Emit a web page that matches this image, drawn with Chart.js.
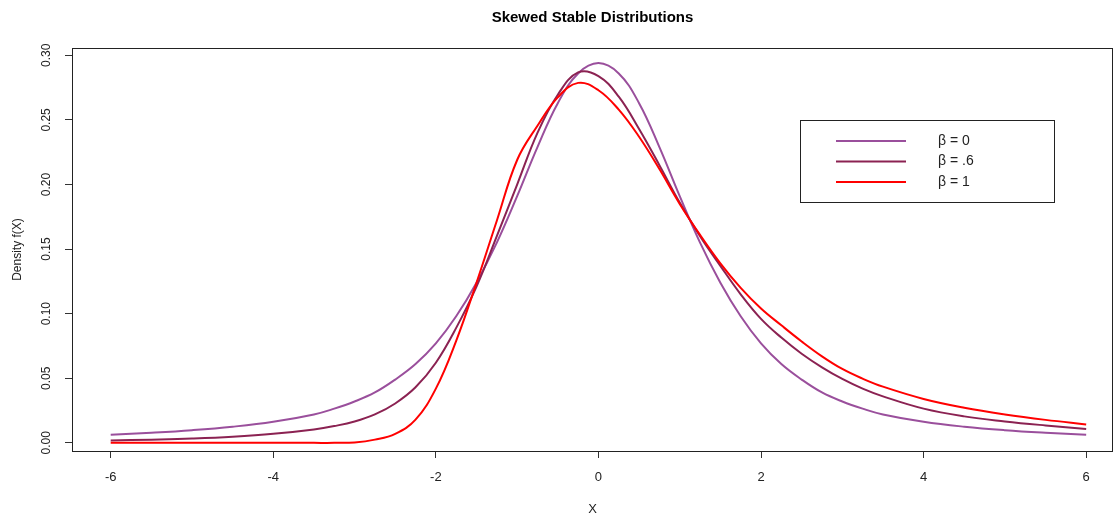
<!DOCTYPE html>
<html>
<head>
<meta charset="utf-8">
<script src="https://cdn.jsdelivr.net/npm/chart.js@4"></script>
<style>
html,body{margin:0;padding:0;background:#fff}
#wrap{width:1117px;height:517px}
</style>
</head>
<body>
<div id="wrap"><canvas id="myChart" width="1117" height="517"></canvas></div>
<script>
const xs = [-6,-5.5,-5,-4.5,-4,-3.5,-3.25,-3,-2.75,-2.5,-2.25,-2,-1.75,-1.5,-1.25,-1,-0.75,-0.5,-0.25,0,0.25,0.5,0.75,1,1.25,1.5,1.75,2,2.25,2.5,2.75,3,3.25,3.5,4,4.5,5,5.5,6]
const beta0 = [0.0062,0.0078,0.0098,0.0125,0.0163,0.0220,0.0265,0.0320,0.0390,0.0490,0.0610,0.0770,0.0980,0.1240,0.1550,0.1910,0.2290,0.2630,0.2860,0.2940,0.2860,0.2630,0.2290,0.1910,0.1550,0.1240,0.0980,0.0770,0.0610,0.0490,0.0390,0.0320,0.0265,0.0220,0.0163,0.0125,0.0098,0.0078,0.0062]
const beta06 = [0.0018,0.0025,0.0034,0.0048,0.0070,0.0104,0.0130,0.0165,0.0220,0.0305,0.0430,0.0620,0.0890,0.1210,0.1600,0.2000,0.2400,0.2695,0.2868,0.2840,0.2680,0.2430,0.2150,0.1860,0.1600,0.1370,0.1150,0.0960,0.0815,0.0690,0.0585,0.0495,0.0420,0.0360,0.0265,0.0205,0.0166,0.0135,0.0108]
const beta1 = [0,0,0,0,0,0,0,0.0003,0.0025,0.0070,0.0180,0.0420,0.0790,0.1240,0.1720,0.2190,0.2455,0.2675,0.2787,0.2730,0.2580,0.2370,0.2120,0.1850,0.1610,0.1390,0.1200,0.1040,0.0910,0.0785,0.0670,0.0572,0.0497,0.0435,0.0340,0.0272,0.0220,0.0178,0.0143]
const seriesLabels = ['β = 0','β = .6','β = 1']
const seriesColors = ['#9a4f9c','#8b2252','#ff0000']
const xTicks = [-6,-4,-2,0,2,4,6]
const yTicks = [0,0.05,0.10,0.15,0.20,0.25,0.30]

Chart.defaults.font.family = '"Liberation Sans", Arial, sans-serif'
Chart.defaults.color = '#222'

function pts(ys){
    return xs.map((x,i) => ({x, y: ys[i]}))
}

// box round the plot region, like R's box()
const boxPlugin = {
    id: 'rbox',
    afterDraw(chart){
        const {ctx, chartArea: a} = chart
        ctx.save()
        ctx.strokeStyle = '#222'
        ctx.lineWidth = 1
        ctx.strokeRect(Math.round(a.left)+0.5, Math.round(a.top)+0.5, Math.round(a.right-a.left)-1, Math.round(a.bottom-a.top))
        ctx.restore()
    }
}

// legend inside the plot, top right
const legendBox = {
    id: 'legendBox',
    afterDraw(chart){
        const ctx = chart.ctx
        ctx.save()
        ctx.fillStyle = '#fff'
        ctx.fillRect(800.5,120.5,254,82)
        ctx.strokeStyle = '#222'
        ctx.lineWidth = 1
        ctx.strokeRect(800.5,120.5,254,82)
        ctx.font = '14px "Liberation Sans", Arial, sans-serif'
        ctx.textBaseline = 'middle'
        ctx.textAlign = 'left'
        chart.data.datasets.forEach((ds,i) => {
            const y = 141 + i*20.5
            ctx.strokeStyle = ds.borderColor
            ctx.lineWidth = 2
            ctx.beginPath()
            ctx.moveTo(836,y)
            ctx.lineTo(906,y)
            ctx.stroke()
            ctx.fillStyle = '#222'
            ctx.fillText(ds.label, 938, y)
        })
        ctx.restore()
    }
}

const ctx = document.getElementById('myChart')

new Chart(ctx,{
    type: 'line',
    data: {
        datasets: [beta0,beta06,beta1].map((ys,i) => ({
            label: seriesLabels[i],
            data: pts(ys),
            borderColor: seriesColors[i],
            borderWidth: 2,
            pointRadius: 0,
            fill: false,
            tension: 0.4,
            order: 2-i
        }))
    },
    options: {
        responsive: false,
        animation: false,
        devicePixelRatio: 1,
        layout: {padding: {left: 0, right: 4, top: 0, bottom: 0}},
        scales: {
            x: {
                type: 'linear',
                min: -6.476,
                max: 6.33,
                afterBuildTicks: s => { s.ticks = xTicks.map(v => ({value: v})) },
                afterFit: s => { s.height = 66 },
                ticks: {
                    font: {size: 13},
                    color: '#222',
                    padding: 12,
                    maxRotation: 0,
                    callback: v => String(v)
                },
                grid: {drawOnChartArea: false, drawTicks: true, tickLength: 7, color: '#333'},
                border: {display: false},
                title: {display: true, text: 'X', font: {size: 13}, color: '#222', padding: {top: 0, bottom: 0}}
            },
            y: {
                min: -0.0063,
                max: 0.3057,
                afterBuildTicks: s => { s.ticks = yTicks.map(v => ({value: v})) },
                afterFit: s => { s.width = 72 },
                ticks: {
                    font: {size: 12},
                    color: '#222',
                    padding: 7,
                    minRotation: 90,
                    maxRotation: 90,
                    crossAlign: 'center',
                    callback: v => v.toFixed(2)
                },
                grid: {drawOnChartArea: false, drawTicks: true, tickLength: 7, color: '#333'},
                border: {display: false},
                title: {display: true, text: 'Density f(X)', font: {size: 12}, color: '#222', padding: {top: 10, bottom: 0}}
            }
        },
        plugins: {
            legend: {display: false},
            tooltip: {enabled: false},
            title: {
                display: true,
                text: 'Skewed Stable Distributions',
                font: {size: 15, weight: 'bold'},
                color: '#000',
                fullSize: false,
                padding: {top: 9, bottom: 21}
            }
        }
    },
    plugins: [boxPlugin, legendBox]
})
</script>
</body>
</html>
